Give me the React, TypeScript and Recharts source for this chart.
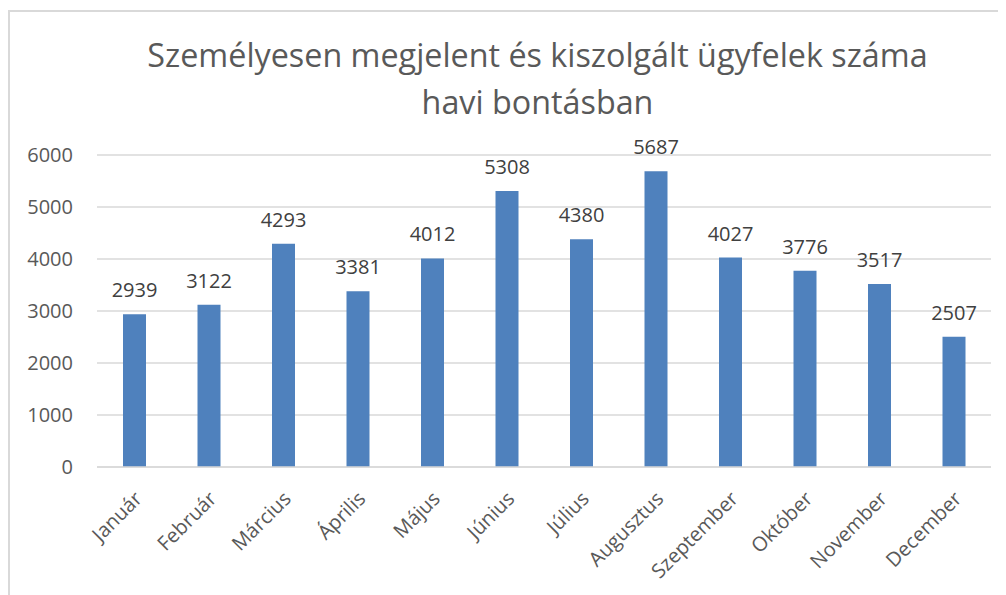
import React from "react";
import { BarChart, Bar, XAxis, YAxis, CartesianGrid, LabelList } from "recharts";

const months = [
  "Január", "Február", "Március", "Április", "Május", "Június",
  "Július", "Augusztus", "Szeptember", "Október", "November", "December",
];
const values = [2939, 3122, 4293, 3381, 4012, 5308, 4380, 5687, 4027, 3776, 3517, 2507];
const yTicks = [0, 1000, 2000, 3000, 4000, 5000, 6000];
const titleLines = ["Személyesen megjelent és kiszolgált ügyfelek száma", "havi bontásban"];

const data = months.map((m, i) => ({ month: m, value: values[i] }));

const FONT = "'Open Sans', Lato, sans-serif";

const XTick = (props: any) => {
  const { x, y, payload } = props;
  return (
    <text
      transform={`translate(${x + 9},${y + 33}) rotate(-45)`}
      textAnchor="end"
      fontSize={20}
      fontFamily={FONT}
      fill="#595959"
    >
      {payload.value}
    </text>
  );
};

export default function App() {
  return (
    <div style={{ position: "relative", width: 998, height: 587, fontFamily: FONT }}>
      <div
        style={{
          position: "absolute",
          left: 0,
          top: 2,
          width: 1100,
          height: 700,
          borderLeft: "2px solid #d9d9d9",
          borderTop: "2px solid #d9d9d9",
          boxSizing: "border-box",
        }}
      />
      <div
        style={{
          position: "absolute",
          left: 529.5,
          top: 23,
          transform: "translateX(-50%)",
          whiteSpace: "nowrap",
          textAlign: "center",
          fontSize: 32.3,
          lineHeight: "47px",
          color: "#595959",
          fontFamily: FONT,
        }}
      >
        {titleLines.map((t) => (
          <div key={t}>{t}</div>
        ))}
      </div>
      <div style={{ position: "absolute", left: 0, top: 0 }}>
        <BarChart
          width={998}
          height={587}
          data={data}
          margin={{ top: 147, right: 15, left: 0, bottom: 28 }}
        >
          <CartesianGrid vertical={false} stroke="#d9d9d9" strokeWidth={1.5} />
          <XAxis
            dataKey="month"
            height={100}
            interval={0}
            tickLine={false}
            tickSize={0}
            tickMargin={0}
            axisLine={{ stroke: "#d9d9d9", strokeWidth: 1.5 }}
            tick={<XTick />}
          />
          <YAxis
            width={89}
            domain={[0, 6000]}
            ticks={yTicks}
            axisLine={false}
            tickLine={false}
            tickSize={0}
            tickMargin={24}
            tick={{ fontSize: 20, fill: "#595959", fontFamily: FONT }}
          />
          <Bar dataKey="value" fill="#4f81bd" barSize={23} isAnimationActive={false}>
            <LabelList
              dataKey="value"
              position="top"
              offset={17}
              fontSize={20}
              fill="#404040"
              fontFamily={FONT}
            />
          </Bar>
        </BarChart>
      </div>
    </div>
  );
}
